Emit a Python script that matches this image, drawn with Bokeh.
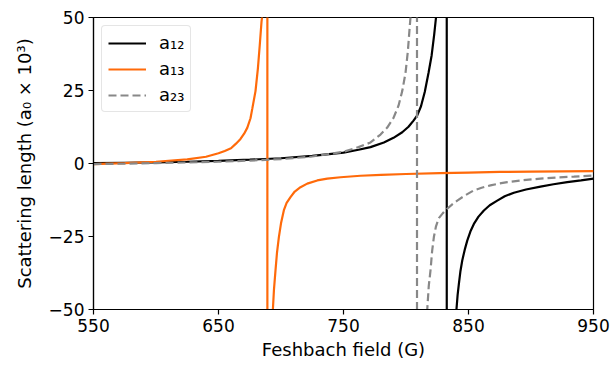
from bokeh.plotting import figure
from bokeh.models import Range1d, FixedTicker, Legend, LegendItem
from bokeh.embed import file_html
from bokeh.resources import INLINE

# Feshbach field (G) and scattering lengths (units of 1000 a0)
field_12 = [550, 575, 600, 625, 650, 675, 700, 725, 750, 762, 771.6, 782.3, 790, 797,
            802, 806, 809, 812, 815, 818, 820.5, 822.5, 824, 826, 828.5, 830.5,
            832.5, 832.7, 834, 837, 840.4, 841.3, 842.3, 843.5, 845, 847, 849, 851.5,
            854.3, 858, 862.3, 867, 873, 879, 886.3, 896, 907.6, 918, 929, 940, 950]
a12 = [0.1, 0.25, 0.4, 0.6, 0.9, 1.3, 1.8, 2.6, 3.7, 4.7, 5.6, 7.2, 8.8, 10.7,
       12.6, 14.7, 16.5, 19.6, 24.5, 31, 37, 44, 50, 62, 90, 160,
       1500, -1500, -300, -90, -49.8, -45, -41.2, -37, -33.2, -29.5, -26.4, -23.3,
       -20.7, -18.2, -16.1, -14.3, -12.7, -11.2, -10.0, -8.9, -7.9, -7.1, -6.4, -5.8, -5.2]

field_13 = [550, 575, 600, 625, 640, 650, 655, 660, 664, 667.6, 670.5, 673, 675.6, 677,
            679.6, 681.5, 683, 684.4, 684.8, 686.5, 688, 689.0, 689.2, 691, 693.5, 694.4,
            695.6, 696.8, 698.3, 700, 702.3, 704.5, 707.6, 711, 715.6, 721, 729, 737,
            747.6, 763.6, 780, 800, 827, 850, 875, 900, 925, 950]
a13 = [-0.2, 0.1, 0.6, 1.4, 2.3, 3.5, 4.3, 5.2, 6.8, 8.4, 10.2, 12.2, 15.5, 18.7,
       24.8, 32.5, 40.5, 48.5, 50, 75, 150, 1500, -1500, -110, -50, -43,
       -36.6, -30.5, -25.2, -20.5, -16, -13.5, -11.5, -9.6, -8.1, -6.9, -5.8, -5.2,
       -4.7, -4.2, -3.9, -3.6, -3.3, -3.1, -2.9, -2.8, -2.7, -2.6]

field_23 = [550, 575, 600, 625, 650, 675, 700, 725, 750, 762, 771.6, 779.6, 785, 790,
            794, 797, 799.6, 801.5, 803.2, 803.6, 805.5, 807.5, 808.7, 808.9, 812, 815,
            817, 818.2, 819.6, 820.9, 822.3, 824, 826.3, 829.5, 833, 837, 841, 847,
            854.3, 860.5, 867.6, 874, 881, 894, 907.6, 920, 934.3, 950]
a23 = [-0.2, -0.05, 0.15, 0.35, 0.6, 1.0, 1.5, 2.4, 4.0, 5.6, 7.2, 9.9, 12.3, 15.6,
       19.8, 24.8, 31, 38.5, 48, 50, 80, 200, 1500, -1500, -110, -65,
       -50, -42, -36.6, -30, -25.2, -21.5, -18.7, -17, -15.5, -14, -12.7, -11,
       -9.2, -8.3, -7.5, -6.9, -6.4, -5.7, -5.2, -4.8, -4.5, -4.1]

x_ticks = [550, 650, 750, 850, 950]
y_ticks = [-50, -25, 0, 25, 50]
y_tick_labels = {-50: "\u221250", -25: "\u221225", 0: "0", 25: "25", 50: "50"}
series_labels = ["a\u2081\u2082", "a\u2081\u2083", "a\u2082\u2083"]

FONT = "DejaVu Sans"

p = figure(width=610, height=365, output_backend="svg", toolbar_location=None,
           x_range=Range1d(550, 950), y_range=Range1d(-50, 50),
           min_border_left=93, min_border_right=17, min_border_top=17, min_border_bottom=56)
p.background_fill_color = "white"
p.border_fill_color = "white"
p.grid.visible = False
p.outline_line_color = "black"
p.outline_line_width = 1.2

r12 = p.line(field_12, a12, line_color="black", line_width=2.2)
r13 = p.line(field_13, a13, line_color="#ff6a0a", line_width=2.2)
r23 = p.line(field_23, a23, line_color="#888888", line_width=2.2, line_dash="8 4")

for ax in (p.xaxis[0], p.yaxis[0]):
    ax.axis_line_color = "black"
    ax.axis_line_width = 1.2
    ax.major_tick_line_color = "black"
    ax.major_tick_line_width = 1.2
    ax.major_tick_out = 5
    ax.major_tick_in = 0
    ax.minor_tick_line_color = None
    ax.major_label_text_font = FONT
    ax.major_label_text_font_size = "17px"
    ax.major_label_text_color = "black"
    ax.axis_label_text_font = FONT
    ax.axis_label_text_font_size = "18px"
    ax.axis_label_text_font_style = "normal"
    ax.axis_label_text_color = "black"
    ax.major_label_standoff = 4

p.xaxis[0].ticker = FixedTicker(ticks=x_ticks)
p.yaxis[0].ticker = FixedTicker(ticks=y_ticks)
p.yaxis[0].major_label_overrides = y_tick_labels
p.xaxis[0].axis_label = "Feshbach field (G)"
p.yaxis[0].axis_label = "Scattering length (a\u2080 \u00d7 10\u00b3)"
p.xaxis[0].axis_label_standoff = 4
p.yaxis[0].axis_label_standoff = 11

legend = Legend(items=[LegendItem(label=series_labels[0], renderers=[r12]),
                       LegendItem(label=series_labels[1], renderers=[r13]),
                       LegendItem(label=series_labels[2], renderers=[r23])],
                location="top_left")
legend.margin = 8
legend.padding = 6
legend.spacing = 5
legend.glyph_width = 38
legend.glyph_height = 20
legend.label_height = 20
legend.label_standoff = 13
legend.label_text_font = FONT
legend.label_text_font_size = "18px"
legend.label_text_color = "black"
legend.border_line_color = "#cccccc"
legend.border_line_width = 1
legend.border_radius = 4
legend.background_fill_alpha = 0.8
p.add_layout(legend)

open("out.html", "w").write(file_html(p, INLINE))
